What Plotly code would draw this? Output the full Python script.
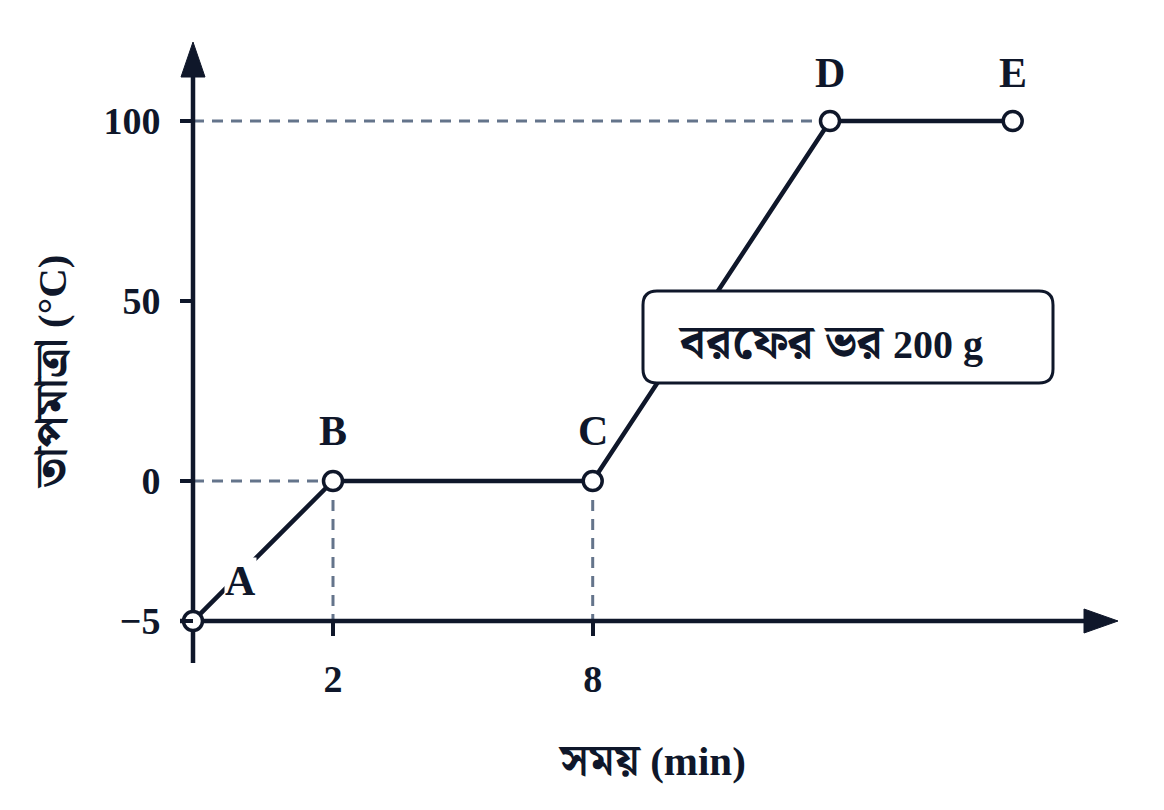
import plotly.graph_objects as go

# ---------------- data ----------------
point_labels = ["A", "B", "C", "D", "E"]
# schematic positions along the time axis (the drawing is not to scale)
time_pos = [0.0, 2.0, 5.71, 9.1, 11.71]
# temperatures (°C); -5 is drawn on a stretched part of the axis
temp_values = [-5, 0, 0, 100, 100]
temp_pos = [-38.9, 0, 0, 100, 100]

x_tick_pos = [2.0, 5.71]
x_tick_text = ["2", "8"]
y_tick_pos = [-38.9, 0, 50, 100]
y_tick_text = ["\u22125", "0", "50", "100"]

box_text_bn = "বরফের ভর"
box_text_mass = "200 g"
x_title_bn = "সময়"
x_title_unit = "(min)"
y_title_bn = "তাপমাত্রা"
y_title_unit = "(°C)"

# ---------------- layout helpers ----------------
OFF = 8                         # page body margin
W, H = 1164 - 2 * OFF, 810 - 2 * OFF
ML, MR, MT, MB = 142, 16, 22, 102
X0_PX, XSCALE = 193 - OFF, 70.0   # figure pixel of x=0, px per unit
Y0_PX, YSCALE = 481 - OFF, 3.6    # figure pixel of y=0, px per unit

def px2x(sx):                   # screen px -> data x
    return (sx - OFF - X0_PX) / XSCALE

def py2y(sy):                   # screen px -> data y
    return (Y0_PX - (sy - OFF)) / YSCALE

def xpaper(sx):
    return (sx - OFF - ML) / (W - ML - MR)

def ypaper(sy):
    return (H - MB - (sy - OFF)) / (H - MB - MT)

x_range = [(ML - X0_PX) / XSCALE, (W - MR - X0_PX) / XSCALE]
y_range = [(Y0_PX - (H - MB)) / YSCALE, (Y0_PX - MT) / YSCALE]

DARK = "#0f172a"
GREY = "#64748b"
SERIF = "Liberation Serif"
BENG = "Liberation Serif, Noto Serif Bengali, Noto Sans Bengali, Lohit Bengali, FreeSerif, serif"

def mixed(bn, latin, bn_size):
    return f"<b><span style='font-size:{bn_size}px'>{bn}</span> {latin}</b>"

fig = go.Figure()

shapes = []
xB, xC, xD = time_pos[1], time_pos[2], time_pos[3]
ybase = temp_pos[0]
dash = dict(color=GREY, width=3, dash="11px,8px")
shapes += [
    dict(type="line", x0=0, x1=xD, y0=temp_pos[3], y1=temp_pos[3], line=dash, layer="below"),
    dict(type="line", x0=0, x1=xB, y0=temp_pos[1], y1=temp_pos[1], line=dash, layer="below"),
    dict(type="line", x0=xB, x1=xB, y0=temp_pos[1], y1=ybase, line=dash, layer="below"),
    dict(type="line", x0=xC, x1=xC, y0=temp_pos[2], y1=ybase, line=dash, layer="below"),
]
# axes lines
shapes += [
    dict(type="line", x0=0, x1=0, y0=py2y(663), y1=py2y(72), line=dict(color=DARK, width=4.5), layer="below"),
    dict(type="line", x0=px2x(180), x1=px2x(1092), y0=ybase, y1=ybase, line=dict(color=DARK, width=4.5), layer="below"),
]
# arrow heads (paper coords)
yt = ypaper(42); yb = ypaper(77); xc = xpaper(193)
hw = 12 / (W - ML - MR)
shapes.append(dict(type="path", xref="paper", yref="paper",
                   path=f"M {xc} {yt} L {xc-hw} {yb} L {xc+hw} {yb} Z",
                   fillcolor=DARK, line=dict(color=DARK, width=1)))
xt = xpaper(1118); xbk = xpaper(1084); yc = ypaper(621)
hh = 12 / (H - MT - MB)
shapes.append(dict(type="path", xref="paper", yref="paper",
                   path=f"M {xt} {yc} L {xbk} {yc-hh} L {xbk} {yc+hh} Z",
                   fillcolor=DARK, line=dict(color=DARK, width=1)))

# rounded box
bx0, bx1, by0, by1, r = 643, 1053, 291, 383, 14
def P(sx, sy):
    return f"{px2x(sx)},{py2y(sy)}"
path = (f"M {P(bx0+r, by0)} L {P(bx1-r, by0)} Q {P(bx1, by0)} {P(bx1, by0+r)} "
        f"L {P(bx1, by1-r)} Q {P(bx1, by1)} {P(bx1-r, by1)} "
        f"L {P(bx0+r, by1)} Q {P(bx0, by1)} {P(bx0, by1-r)} "
        f"L {P(bx0, by0+r)} Q {P(bx0, by0)} {P(bx0+r, by0)} Z")
shapes.append(dict(type="path", path=path, fillcolor="white",
                   line=dict(color=DARK, width=3), layer="above"))

fig.add_trace(go.Scatter(
    x=time_pos, y=temp_pos, mode="lines+markers",
    line=dict(color=DARK, width=4.5),
    marker=dict(size=19, color="white", line=dict(color=DARK, width=3.5)),
    customdata=temp_values, hovertemplate="%{customdata} °C<extra></extra>",
    cliponaxis=False, showlegend=False,
))

annotations = []
offsets = [(47, 40), (0, 50), (0, 50), (0, 48), (0, 48)]
for lab, xv, yv, (dx, dy) in zip(point_labels, time_pos, temp_pos, offsets):
    annotations.append(dict(x=xv, y=yv, text=f"<b>{lab}</b>", showarrow=False,
                            xshift=dx, yshift=dy, xanchor="center", yanchor="middle",
                            bgcolor="white" if lab == "A" else "rgba(0,0,0,0)",
                            borderpad=0,
                            font=dict(family=SERIF, size=42, color=DARK)))
annotations.append(dict(x=px2x(830), y=py2y(341), text=mixed(box_text_bn, box_text_mass, 48),
                        showarrow=False, xanchor="center", yanchor="middle",
                        font=dict(family=BENG, size=40, color=DARK)))
annotations.append(dict(xref="paper", yref="paper", x=xpaper(652), y=ypaper(760),
                        xanchor="center", yanchor="middle",
                        text=mixed(x_title_bn, x_title_unit, 44), showarrow=False,
                        font=dict(family=BENG, size=41, color=DARK)))
annotations.append(dict(xref="paper", yref="paper", x=xpaper(51), y=ypaper(372),
                        xanchor="center", yanchor="middle",
                        text=mixed(y_title_bn, y_title_unit, 45), showarrow=False, textangle=-90,
                        font=dict(family=BENG, size=41, color=DARK)))

fig.update_layout(
    width=W, height=H,
    margin=dict(l=ML, r=MR, t=MT, b=MB),
    paper_bgcolor="white", plot_bgcolor="white",
    shapes=shapes, annotations=annotations,
    xaxis=dict(range=x_range, showgrid=False, zeroline=False, showline=False,
               anchor="free", position=ypaper(621),
               tickmode="array", tickvals=x_tick_pos,
               ticktext=[f"<b>{t}</b>" for t in x_tick_text],
               ticks="outside", ticklen=14, tickwidth=4, tickcolor=DARK,
               ticklabelstandoff=10,
               tickfont=dict(family=SERIF, size=38, color=DARK)),
    yaxis=dict(range=y_range, showgrid=False, zeroline=False, showline=False,
               anchor="free", position=xpaper(193),
               tickmode="array", tickvals=y_tick_pos,
               ticktext=[f"<b>{t}</b>" for t in y_tick_text],
               ticks="outside", ticklen=13, tickwidth=4, tickcolor=DARK,
               ticklabelstandoff=12,
               tickfont=dict(family=SERIF, size=38, color=DARK)),
)

fig.write_html("out.html")
